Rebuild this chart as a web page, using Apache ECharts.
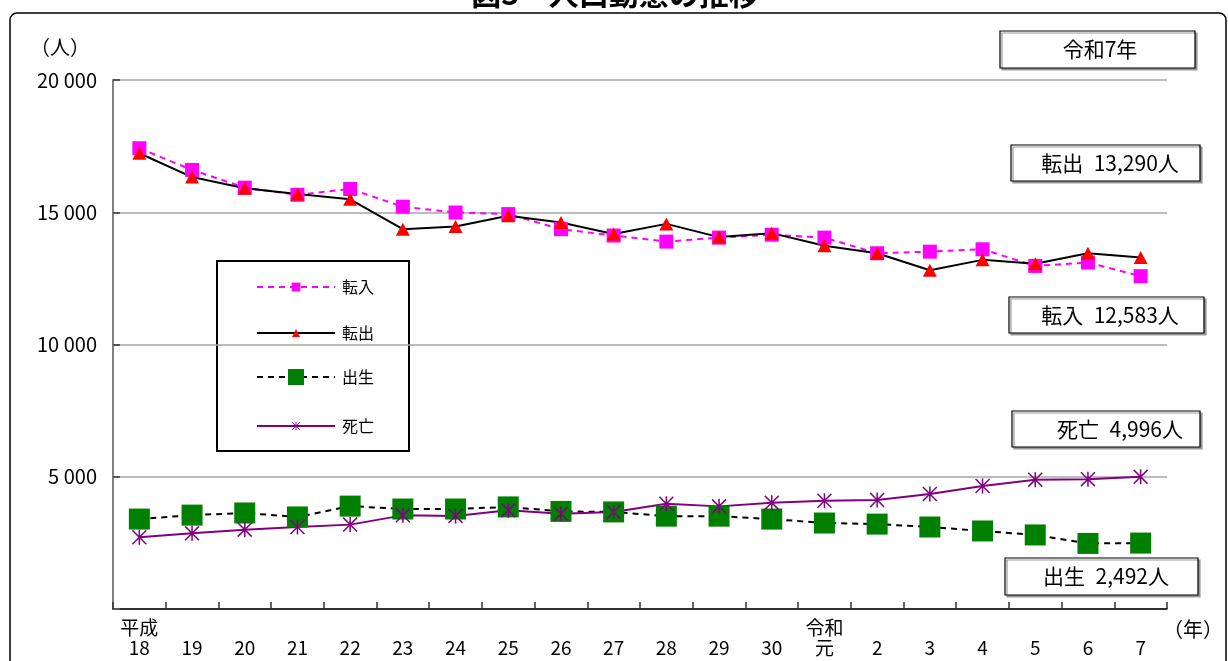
<!DOCTYPE html>
<html>
<head>
<meta charset="utf-8">
<script src="https://cdn.jsdelivr.net/npm/echarts@6/dist/echarts.min.js"></script>
<style>
html,body{margin:0;padding:0;background:#fff;}
#chart{width:1228px;height:661px;}
</style>
</head>
<body>
<div id="chart"></div>
<script>
// ---- data ----
const categories = ['18','19','20','21','22','23','24','25','26','27','28','29','30','元','2','3','4','5','6','7'];
const eraLabels = ['平成','','','','','','','','','','','','','令和','','','','','',''];
const tennyu = [17420,16600,15930,15660,15880,15210,14990,14930,14360,14120,13890,14040,14150,14040,13450,13510,13600,12970,13100,12583];
const tenshutsu = [17230,16330,15910,15690,15490,14360,14460,14870,14610,14180,14560,14060,14210,13730,13450,12810,13200,13050,13450,13290];
const births = [3400,3550,3630,3480,3890,3780,3780,3860,3690,3670,3510,3510,3400,3250,3210,3100,2950,2800,2480,2492];
const deaths = [2710,2860,3000,3100,3190,3540,3520,3730,3600,3670,3980,3880,4020,4090,4120,4350,4650,4890,4910,4996];
const seriesNames = ['転入','転出','出生','死亡'];
const yTicks = [0,5000,10000,15000,20000];
const notes = ['令和7年','転出\u200213,290人','転入\u200212,583人','死亡\u20024,996人','出生\u20022,492人'];
const titleText = '図3　人口動態の推移';

// ---- chart ----
const FONT = '"Noto Sans CJK JP", "Noto Sans", sans-serif';
const asterisk = 'path://M45 0H55V100H45Z M0 7L7 0L100 93L93 100Z M93 0L100 7L7 100L0 93Z';

function fmt(v){
  if (v === 0) return '';
  const s = String(v);
  return s.length > 3 ? s.slice(0, s.length-3) + ' ' + s.slice(-3) : s;
}

const chart = echarts.init(document.getElementById('chart'), null, {renderer:'canvas'});

function legendFor(name, top, h){
  return {
    data:[name], orient:'horizontal', left:256, top:top, padding:0,
    itemWidth:78, itemHeight:h, selectedMode:false,
    textStyle:{fontFamily:FONT, fontSize:16, color:'#000', padding:[0,0,0,2]}
  };
}

function box(x,y,w,h,text,tx){
  return [
    {type:'rect', shape:{x:x,y:y,width:w,height:h}, z:50,
     style:{fill:'#fff', stroke:'#000', lineWidth:1.2, shadowColor:'#999', shadowOffsetX:2, shadowOffsetY:2, shadowBlur:0}},
    {type:'text', z:51, style:{text:text, x:tx, y:y+h/2, fill:'#000', font:'21px ' + FONT,
      textAlign:'center', textVerticalAlign:'middle', align:'center', verticalAlign:'middle'}}
  ];
}

const option = {
  animation:false,
  backgroundColor:'#fff',
  grid:{left:113, right:61, top:80, bottom:52, containLabel:false},
  legend:[
    legendFor(seriesNames[0], 279, 11),
    legendFor(seriesNames[1], 325, 10),
    legendFor(seriesNames[2], 369, 20),
    legendFor(seriesNames[3], 418, 10)
  ],
  xAxis:{
    type:'category', data:categories, boundaryGap:true,
    axisLine:{lineStyle:{color:'#000', width:1.5}},
    axisTick:{show:true, inside:true, length:7, lineStyle:{color:'#333', width:1.5}},
    axisLabel:{
      interval:0, margin:9, color:'#000', fontFamily:FONT, fontSize:19, lineHeight:20,
      formatter:(v,i)=> (eraLabels[i]||'') + '\n' + v
    }
  },
  yAxis:{
    type:'value', min:yTicks[0], max:yTicks[yTicks.length-1], interval:5000,
    axisLine:{show:true, lineStyle:{color:'#808080', width:2}},
    axisTick:{show:true, inside:true, length:7, lineStyle:{color:'#555', width:2}},
    splitLine:{show:true, lineStyle:{color:'#a6a6a6', width:1.5}},
    axisLabel:{color:'#000', fontFamily:FONT, fontSize:20, margin:16, formatter:fmt}
  },
  series:[
    {name:seriesNames[0], type:'line', data:tennyu, symbol:'rect', symbolSize:14,
     lineStyle:{color:'#FF00FF', width:2, type:[6,5]}, itemStyle:{color:'#FF00FF'}},
    {name:seriesNames[1], type:'line', data:tenshutsu, symbol:'triangle', symbolSize:[14,13],
     lineStyle:{color:'#000', width:2}, itemStyle:{color:'#FF0000'}},
    {name:seriesNames[2], type:'line', data:births, symbol:'rect', symbolSize:21,
     lineStyle:{color:'#000', width:2, type:[6,5]}, itemStyle:{color:'#008000'}},
    {name:seriesNames[3], type:'line', data:deaths, symbol:asterisk, symbolSize:15,
     lineStyle:{color:'#800080', width:2}, itemStyle:{color:'#800080'}}
  ],
  graphic:[
    {type:'rect', shape:{x:10,y:13,width:1216,height:720,r:7}, z:-10, silent:true,
     style:{fill:'none', stroke:'#000', lineWidth:1.5}},
    {type:'text', z:60, style:{text:titleText, x:615, y:9, fill:'#000', font:'bold 30px ' + FONT,
      textAlign:'center', textVerticalAlign:'bottom', align:'center', verticalAlign:'bottom'}},
    {type:'text', style:{text:'（人）', x:30, y:47, fill:'#000', font:'20px ' + FONT,
      textVerticalAlign:'middle', verticalAlign:'middle'}},
    {type:'text', style:{text:'（年）', x:1163, y:629, fill:'#000', font:'20px ' + FONT,
      textVerticalAlign:'middle', verticalAlign:'middle'}},
    {type:'rect', shape:{x:217,y:261,width:192,height:190}, z:-1,
     style:{fill:'#fff', stroke:'#000', lineWidth:2}},
    ...box(1000,31,195,37,notes[0],1100),
    ...box(1011,145,189,36,notes[1],1110),
    ...box(1009,297,195,36,notes[2],1110),
    ...box(1012,411,188,36,notes[3],1120),
    ...box(1005,558,193,37,notes[4],1106)
  ]
};
chart.setOption(option);
</script>
</body>
</html>
